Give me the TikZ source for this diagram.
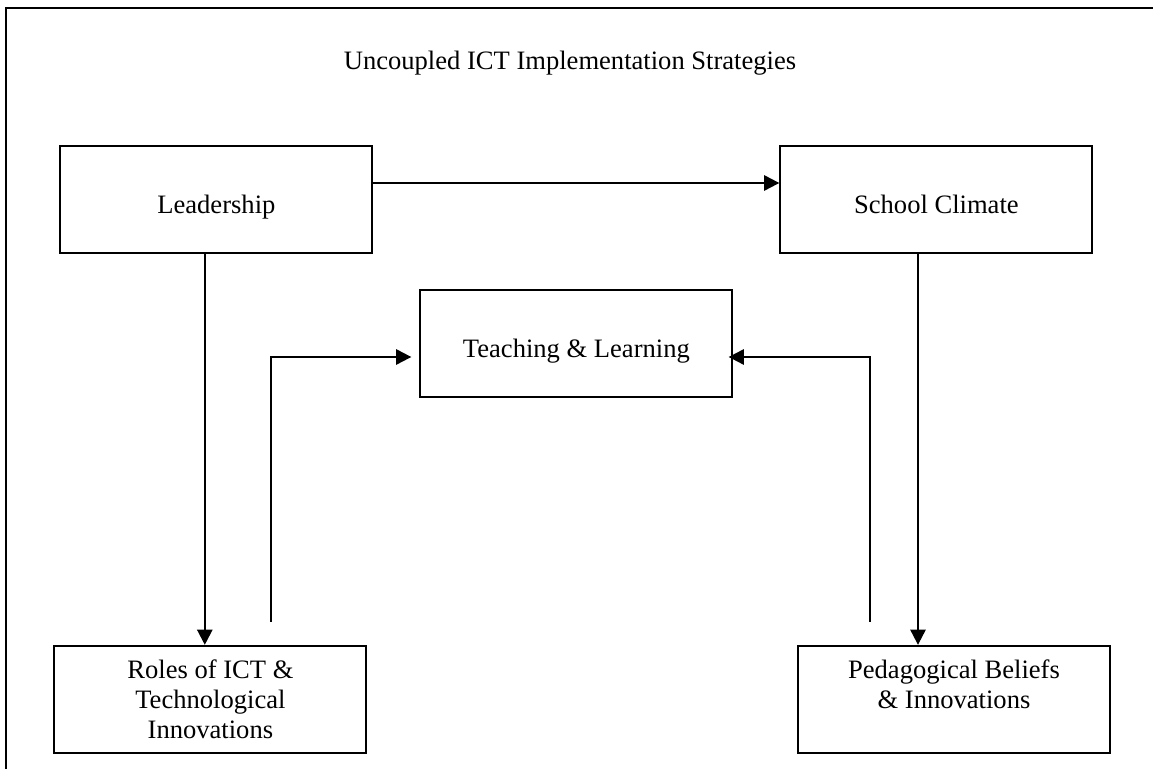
\documentclass[tikz,border=0pt]{standalone}
\usepackage{fontspec}
\setmainfont{Liberation Serif}
\usepackage{tikz}
\usetikzlibrary{arrows.meta}

\begin{document}
\begin{tikzpicture}[
        box/.style={draw, line width=1.5pt, minimum width=7.8cm, minimum height=2.675cm, inner sep=0pt, align=center, font=\fontsize{18.9pt}{21.3pt}\selectfont},
        oneline/.style={text height=0.69cm, text depth=0cm},
        >={Triangle[length=0.38cm, width=0.38cm]}, line width=1.5pt]
        \useasboundingbox (0, 0) rectangle (28.825, 19.225);
        \draw (0.15, 0) -- (0.15, 19.025) -- (28.825, 19.025);
        
        \node[font=\fontsize{18.9pt}{21.3pt}\selectfont] (title) at (14.25, 17.65) {Uncoupled ICT Implementation Strategies};
        \node[box, oneline] (lead) at (5.41, 14.24) {Leadership};
        \node[box, oneline] (clim) at (23.41, 14.24) {School Climate};
        \node[box, oneline] (teach) at (14.41, 10.64) {Teaching \& Learning};
        \node[box] (roles) at (5.26, 1.74) {Roles of ICT \&\\ Technological\\ Innovations};
        \node[box] (ped) at (23.85, 1.74) {Pedagogical Beliefs\\ \& Innovations\\ \mbox{}};
        \coordinate (rup) at (6.775, 3.675);
        \coordinate (pup) at (21.75, 3.675);
        
        \draw[->] ([yshift=0.41cm]lead.east) to ([yshift=0.41cm]clim.west);
        \draw[->] ([xshift=-0.29cm]lead.south) to ([xshift=-0.29cm]lead.south |- roles.north);
        \draw[->] ([xshift=-0.46cm]clim.south) to ([xshift=-0.46cm]clim.south |- ped.north);
        \draw[->] (rup) |- ([xshift=-0.2cm, yshift=-0.34cm]teach.west);
        \draw[->] (pup) |- ([xshift=-0.12cm, yshift=-0.34cm]teach.east);
    \end{tikzpicture}
\end{document}
